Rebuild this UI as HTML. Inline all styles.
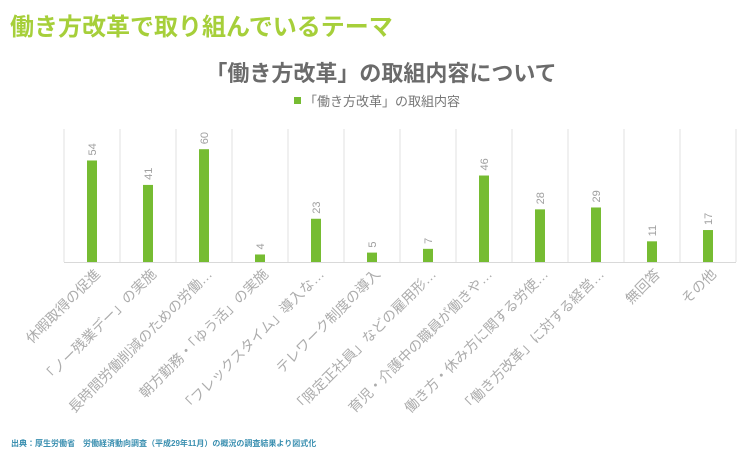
<!DOCTYPE html>
<html><head><meta charset="utf-8"><style>
body{margin:0;background:#fff;width:747px;height:461px;overflow:hidden;font-family:"Liberation Sans","Noto Sans CJK JP",sans-serif;}
</style></head><body>
<svg width="747" height="461" xmlns="http://www.w3.org/2000/svg" style="font-family:'Liberation Sans','Noto Sans CJK JP',sans-serif">
<text x="10" y="35" font-size="24" font-weight="bold" fill="#a6cf3a">働き方改革で取り組んでいるテーマ</text>
<text x="381" y="81" font-size="22" font-weight="bold" fill="#6b6b6b" text-anchor="middle">「働き方改革」の取組内容について</text>
<rect x="294" y="97" width="7" height="7" fill="#76bc32"/>
<text x="304" y="106" font-size="13" fill="#777">「働き方改革」の取組内容</text>
<g id="grid"></g><g id="bars"></g><g id="xl"></g>
<text x="11" y="446" font-size="8" font-weight="bold" fill="#3a8fb0">出典：厚生労働省　労働経済動向調査（平成29年11月）の概況の調査結果より図式化</text>
</svg>
<script>
const categories=["休暇取得の促進","「ノー残業デー」の実施","長時間労働削減のための労働…","朝方勤務・「ゆう活」の実施","「フレックスタイム」導入な…","テレワーク制度の導入","「限定正社員」などの雇用形…","育児・介護中の職員が働きや…","働き方・休み方に関する労使…","「働き方改革」に対する経営…","無回答","その他"];
const values=[54,41,60,4,23,5,7,46,28,29,11,17];
const NS="http://www.w3.org/2000/svg";
const x0=64,step=56,base=262,plotTop=129,scale=1.88;
const xc=i=>x0+step*i+step/2, yv=v=>base-v*scale;
const g=document.getElementById('grid'),b=document.getElementById('bars'),xl=document.getElementById('xl');
function mk(t,a,p){const e=document.createElementNS(NS,t);for(const k in a)e.setAttribute(k,a[k]);p.appendChild(e);return e;}
for(let i=0;i<=categories.length;i++){
 const l=mk('line',{x1:x0+step*i,x2:x0+step*i,y1:plotTop,y2:base,stroke:'#e2e2e2','stroke-width':1},g);
 
 
}
const ax=mk('line',{x1:x0,x2:x0+step*categories.length,y1:base+0.5,y2:base+0.5,stroke:'#d9d9d9'},g);


values.forEach((v,i)=>{
 const r=mk('rect',{x:xc(i)-5,y:yv(v),width:10,height:base-yv(v),fill:'#76bc32'},b);
 
 
 const cx=xc(i)+4,cy=yv(v)-5;
 const t=mk('text',{x:cx,y:cy,'font-size':11,fill:'#a0a0a0',transform:`rotate(-90 ${cx} ${cy})`},b);
 t.textContent=v;
 
 
 const lx=xc(i)+9,ly=base+13;
 const c=mk('text',{x:lx,y:ly,'font-size':14,fill:'#acacac','text-anchor':'end',transform:`rotate(-45 ${lx} ${ly})`},xl);
 c.textContent=categories[i];
 
 
});
</script>
</body></html>
